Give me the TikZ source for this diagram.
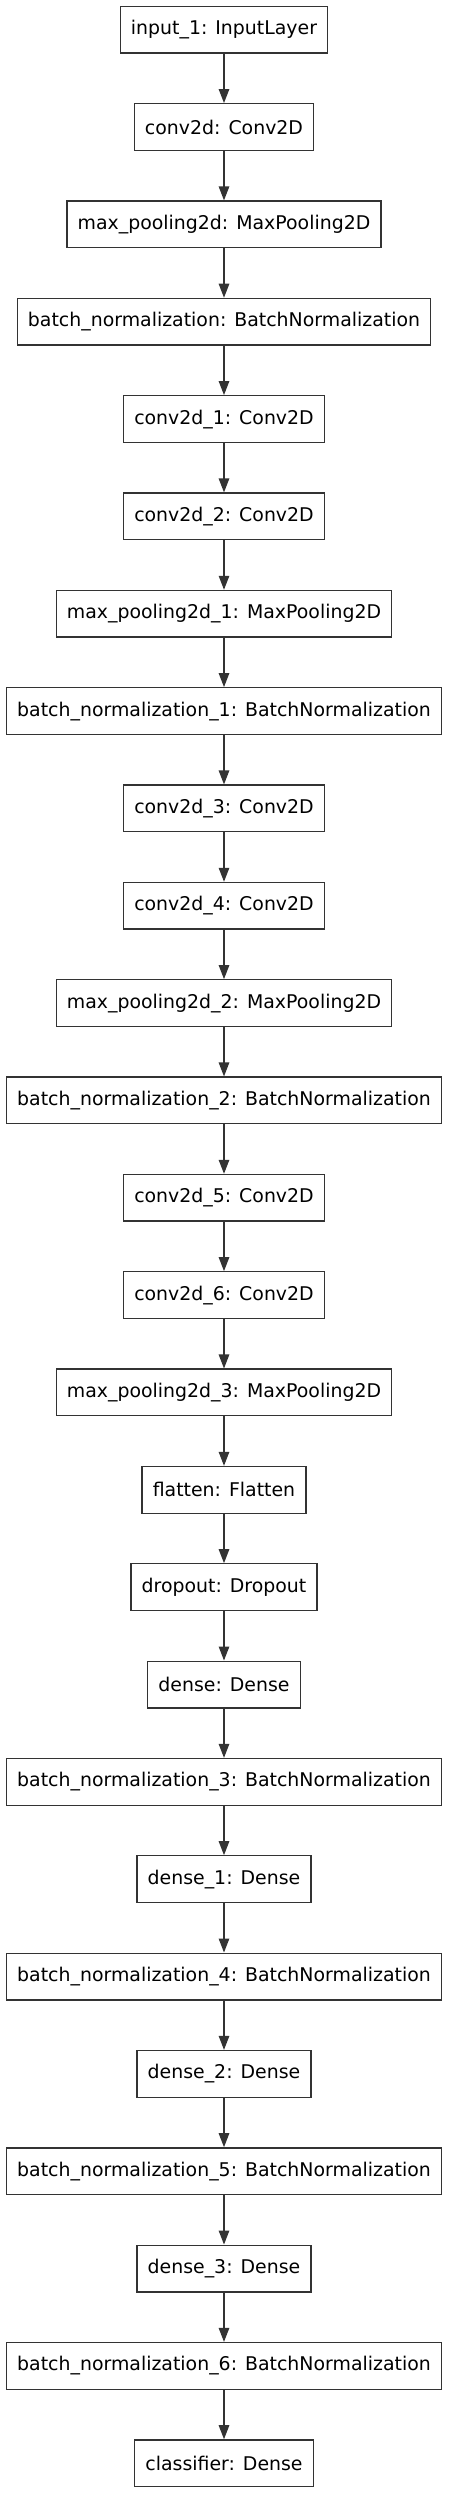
\documentclass[tikz,border=0pt]{standalone}
\usepackage{fontspec}
\setmainfont{DejaVu Sans}
\usetikzlibrary{arrows.meta}
\definecolor{edge}{HTML}{333333}
\tikzset{
  layer/.style={draw=edge, line width=1.3pt, fill=white, inner xsep=10.7pt, inner ysep=0pt,
    minimum height=46.7pt, font=\fontsize{18.9pt}{22pt}\selectfont, text=black},
  flow/.style={draw=edge, line width=1.3pt, -{Triangle[length=14pt,width=10.5pt]}}
}
\begin{document}
\begin{tikzpicture}[x=1pt,y=1pt]
\useasboundingbox[fill=white] (0,0) rectangle (448,-2493);
\foreach \t [count=\i] in {
  input\_1: InputLayer,
  conv2d: Conv2D,
  max\_pooling2d: MaxPooling2D,
  batch\_normalization: BatchNormalization,
  conv2d\_1: Conv2D,
  conv2d\_2: Conv2D,
  max\_pooling2d\_1: MaxPooling2D,
  batch\_normalization\_1: BatchNormalization,
  conv2d\_3: Conv2D,
  conv2d\_4: Conv2D,
  max\_pooling2d\_2: MaxPooling2D,
  batch\_normalization\_2: BatchNormalization,
  conv2d\_5: Conv2D,
  conv2d\_6: Conv2D,
  max\_pooling2d\_3: MaxPooling2D,
  flatten: Flatten,
  dropout: Dropout,
  dense: Dense,
  batch\_normalization\_3: BatchNormalization,
  dense\_1: Dense,
  batch\_normalization\_4: BatchNormalization,
  dense\_2: Dense,
  batch\_normalization\_5: BatchNormalization,
  dense\_3: Dense,
  batch\_normalization\_6: BatchNormalization,
  classifier: Dense}
{
  \node[layer] (n\i) at (224,{-(29.7+(\i-1)*97.34)}) {\t};
}
\foreach \i [remember=\i as \j (initially 1)] in {2,...,26}
{
  \draw[flow] (n\j.south) -- (n\i.north);
}
\end{tikzpicture}
\end{document}
